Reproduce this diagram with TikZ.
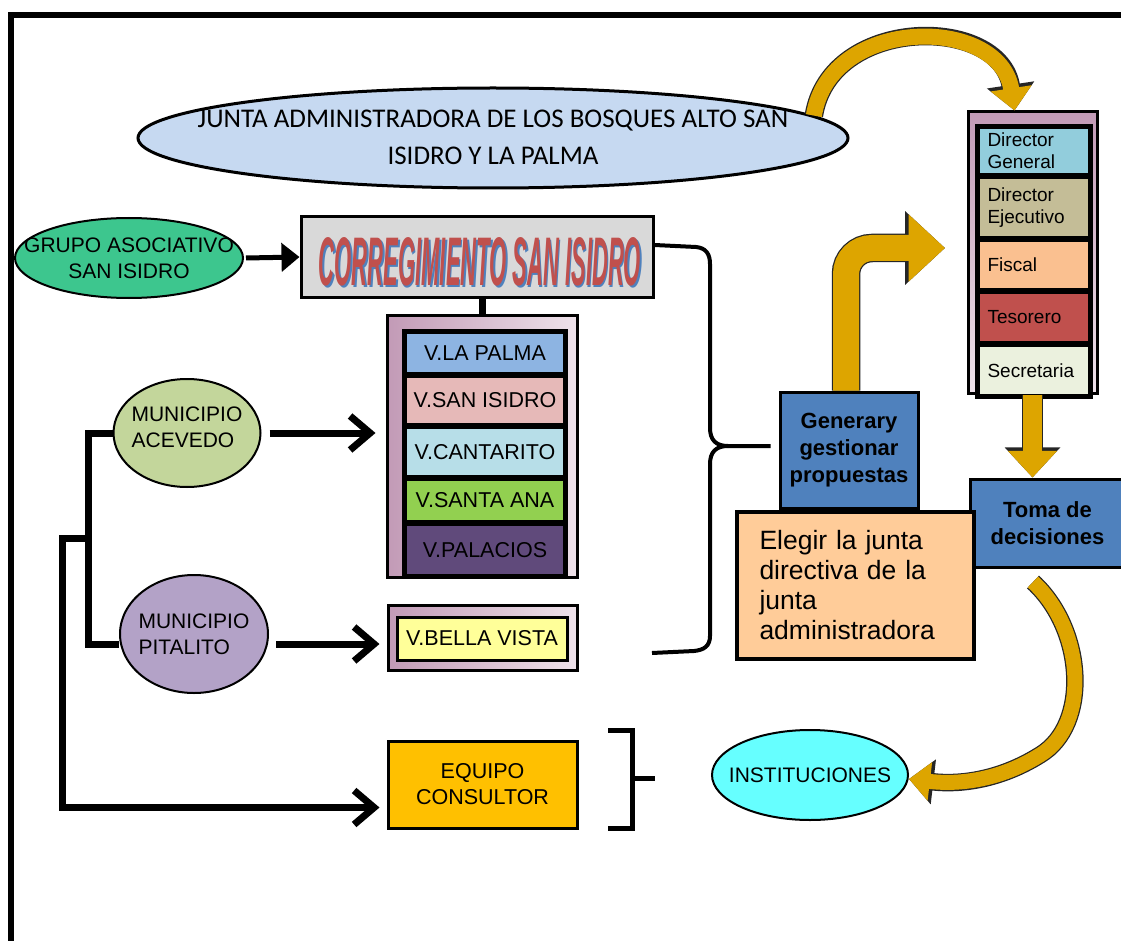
\documentclass[tikz,border=0pt]{standalone}
\usepackage{graphicx}
\usepackage{fontspec}
\setmainfont{Liberation Sans}
\newfontfamily\calibfont{Carlito}
\usepackage{tikz}
\usetikzlibrary{positioning,arrows.meta,shapes.geometric}
\definecolor{juntablue}{HTML}{C6D9F1}
\definecolor{dgblue}{HTML}{92CDDC}
\definecolor{dekhaki}{HTML}{C4BD97}
\definecolor{fispeach}{HTML}{FAC090}
\definecolor{tesred}{HTML}{C0504D}
\definecolor{secpale}{HTML}{EBF1DE}
\definecolor{lilacA}{HTML}{C29AB6}
\definecolor{lilacB}{HTML}{EEE2EA}
\definecolor{corrgray}{HTML}{D9D9D9}
\definecolor{grupogreen}{HTML}{3DC68E}
\definecolor{acevgreen}{HTML}{C3D69B}
\definecolor{pitapurple}{HTML}{B3A2C7}
\definecolor{bellayellow}{HTML}{FFFF99}
\definecolor{equipogold}{HTML}{FFC000}
\definecolor{insticyan}{HTML}{66FFFF}
\definecolor{boxblue}{HTML}{4F81BD}
\definecolor{elegirpeach}{HTML}{FFCC99}
\definecolor{goldy}{HTML}{DDA500}
\definecolor{vpalma}{HTML}{8DB4E2}
\definecolor{vsan}{HTML}{E6B9B8}
\definecolor{vcant}{HTML}{B7DEE8}
\definecolor{vsanta}{HTML}{92D050}
\definecolor{vpal}{HTML}{604A7B}
\definecolor{wred}{HTML}{C0504D}
\definecolor{wblue}{HTML}{4F81BD}
\newcommand{\corrword}{\resizebox{322pt}{48pt}{\bfseries\itshape CORREGIMIENTO SAN ISIDRO}}
\tikzset{%
  box/.style={%
    draw=black,
    line width=3pt,
    inner sep=0pt,
    align=center
  },
  oval/.style={%
    ellipse,
    draw=black,
    line width=2pt,
    inner sep=0pt
  },
  ovaltext/.style={%
    inner sep=0pt,
    align=center,
    font=\fontsize{21}{26}\selectfont
  },
  orow/.style={%
    draw=black,
    line width=3pt,
    anchor=north west,
    minimum width=111pt,
    text width=93pt,
    inner xsep=9pt,
    inner ysep=0pt,
    align=left,
    font=\fontsize{19}{22}\selectfont
  },
  vrow/.style={%
    draw=black,
    line width=3pt,
    anchor=north west,
    minimum width=159pt,
    inner sep=0pt,
    font=\fontsize{21.5}{24}\selectfont
  },
  chev/.style={%
    line width=7pt,
    -{Straight Barb[length=20pt,width=34pt]}
  },
  goldarrow/.style={%
    draw=goldy,
    line width=#1,
    -{Triangle[length=0pt 1.4,width=0pt 2.5]},
    preaction={draw=black!85,line width=#1+2.5pt,-{Triangle[length=0pt 1.4,width=0pt 2.5]}}
  }
}

\begin{document}
\begin{tikzpicture}[x=1pt,y=-1pt]
    \useasboundingbox (0,0) rectangle (1121,941);
    \draw[line width=6pt] (11,941) -- (11,15) -- (1121,15);

    % top
    \node[oval, line width=3pt, fill=juntablue, minimum width=710pt, minimum height=100pt] (junta) at (493,138) {};
    \node[ovaltext, font=\calibfont\fontsize{27}{37}\selectfont] (juntatext) at ([yshift=1pt]junta.center)
      {JUNTA ADMINISTRADORA DE LOS BOSQUES ALTO SAN\\ISIDRO Y LA PALMA};

    % organos de la junta
    \node[box, top color=lilacA, bottom color=lilacB, minimum width=129pt, minimum height=281pt] (org) at (1032.5,252.5) {};
    \node[orow, fill=dgblue, minimum height=47pt] (dgen) at (977,126) {Director\\General};
    \node[orow, fill=dekhaki, minimum height=60pt] (dej) at (dgen.south west) {Director\\Ejecutivo};
    \node[orow, fill=fispeach, minimum height=49pt] (fis) at (dej.south west) {Fiscal};
    \node[orow, fill=tesred, minimum height=50pt] (tes) at (fis.south west) {Tesorero};
    \node[orow, fill=secpale, minimum height=50pt] (sec) at (tes.south west) {Secretaria};
    \draw[line width=4pt] (dgen.north west) rectangle (sec.south east);

    % corregimiento
    \node[box, fill=corrgray, minimum width=352pt, minimum height=80pt] (corr) at (477,257) {};
    \node[text=wblue, inner sep=0pt] (corrshade) at ([shift={(4.5pt,-6.5pt)}]corr.center) {\corrword};
    \node[text=wred, inner sep=0pt] (corrtitle) at ([shift={(3pt,-5pt)}]corr.center) {\corrword};
    \node[oval, fill=grupogreen, minimum width=228pt, minimum height=80pt] (grupo) at (129,258) {};
    \node[ovaltext] (grupotext) at (grupo.center) {GRUPO ASOCIATIVO\\SAN ISIDRO};
    \draw[line width=5pt, -{Triangle[length=18pt,width=28pt]}] ([xshift=2pt]grupo.east) -- (corr.west);

    % veredas
    \node[box, left color=lilacA, right color=lilacB, minimum width=190pt, minimum height=262pt] (verdeas) at (482,446) {};
    \node[vrow, fill=vpalma, minimum height=41pt] (vpalma) at (404,331) {V.LA PALMA};
    \node[vrow, fill=vsan, minimum height=48pt] (vsan) at (vpalma.south west) {V.SAN ISIDRO};
    \node[vrow, fill=vcant, minimum height=49pt] (vcant) at (vsan.south west) {V.CANTARITO};
    \node[vrow, fill=vsanta, minimum height=42pt] (vsanta) at (vcant.south west) {V.SANTA ANA};
    \node[vrow, fill=vpal, minimum height=51pt] (vpal) at (vsanta.south west) {V.PALACIOS};
    \draw[line width=4pt] (vpalma.north west) rectangle (vpal.south east);
    \draw[line width=7pt] (verdeas.north |- corr.south) -- (verdeas.north);

    \node[box, left color=lilacA, right color=lilacB, minimum width=189pt, minimum height=65pt] (bellaout) at (482.5,637.5) {};
    \node[box, fill=bellayellow, minimum width=170pt, minimum height=43pt, font=\fontsize{21.5}{24}\selectfont] (bella) at (482,638.5) {V.BELLA VISTA};

    % municipios
    \node[oval, fill=acevgreen, minimum width=147pt, minimum height=108pt] (acevedo) at (187,433) {};
    \node[ovaltext, align=left] (acevedotext) at ([yshift=6pt]acevedo.center) {MUNICIPIO\\ACEVEDO};
    \node[oval, fill=pitapurple, minimum width=148pt, minimum height=118pt] (pitalito) at (194,634) {};
    \node[ovaltext, align=left] (pitalitotext) at (pitalito.center) {MUNICIPIO\\PITALITO};
    \node[box, fill=equipogold, minimum width=189pt, minimum height=87pt, font=\fontsize{21.5}{26}\selectfont] (equipo) at (482.5,784.5) {EQUIPO\\CONSULTOR};

    \draw[chev, shorten <=8pt, shorten >=10pt] (acevedo.east) -- (acevedo.east -| verdeas.west);
    \coordinate (pitarrow) at ([xshift=7pt,yshift=-10pt]pitalito.east);
    \draw[chev, shorten >=7pt] (pitarrow) -- (pitarrow -| bellaout.west);
    \coordinate (fork) at (88,538);
    \draw[line width=7pt] (acevedo.west) -| (fork) |- ([yshift=-10pt]pitalito.west);
    \draw[chev, shorten >=7pt] (fork) -- ++(-26,0) |- ([yshift=-23pt]equipo.west);

    % decisiones
    \node[box, fill=boxblue, minimum width=138pt, minimum height=116pt, font=\bfseries\fontsize{22}{27}\selectfont] (generar) at (849,450) {Generary\\gestionar\\propuestas};
    \node[box, fill=boxblue, minimum width=155pt, minimum height=88pt, font=\bfseries\fontsize{22}{27}\selectfont] (toma) at (1047.5,523) {Toma de\\decisiones};
    \node[box, line width=4pt, fill=elegirpeach, minimum width=237pt, minimum height=147pt, text width=192pt, align=left,
      font=\fontsize{26.5}{30}\selectfont] (elegir) at (855.5,585.5) {Elegir la junta\\directiva de la\\junta\\administradora};
    \node[oval, fill=insticyan, minimum width=196pt, minimum height=90pt] (insti) at (810,775) {};
    \node[ovaltext] (institext) at (insti.center) {INSTITUCIONES};

    % llaves
    \coordinate (braceend) at (652,653);
    \draw[line width=4pt] ([yshift=12pt]corr.east) -- (696,247) .. controls (706,248) and (710,254) .. (710,264)
      -- (710,428) .. controls (710,440) and (716,446) .. (728,446) -- ([xshift=-8pt,yshift=4pt]generar.west);
    \draw[line width=4pt] (728,446) .. controls (716,446) and (710,452) .. (710,464)
      -- (710,636) .. controls (710,646) and (704,650) .. (694,651) -- (braceend);
    \draw[line width=5pt] (608,730) -- (632,730) -- (632,828) -- (608,828);
    \draw[line width=5pt] (632,778) -- (655,778);

    % flechas
    \draw[goldarrow=16pt] (junta.4) .. controls (830,15) and (1000,15) .. ([xshift=-18pt]org.north);
    \draw[goldarrow=19pt] (org.south) -- (org.south |- toma.north);
    \coordinate (bendtip) at (945,248);
    \draw[goldarrow=26pt, rounded corners=26pt] ([xshift=-3pt]generar.north) |- (bendtip);
    \coordinate (tomatail) at (1033,582);
    \draw[goldarrow=15pt] (tomatail) .. controls (1085,630) and (1090,725) .. (1040,755)
      .. controls (1000,780) and (960,785) .. ([yshift=-4pt]insti.east);
\end{tikzpicture}
\end{document}
